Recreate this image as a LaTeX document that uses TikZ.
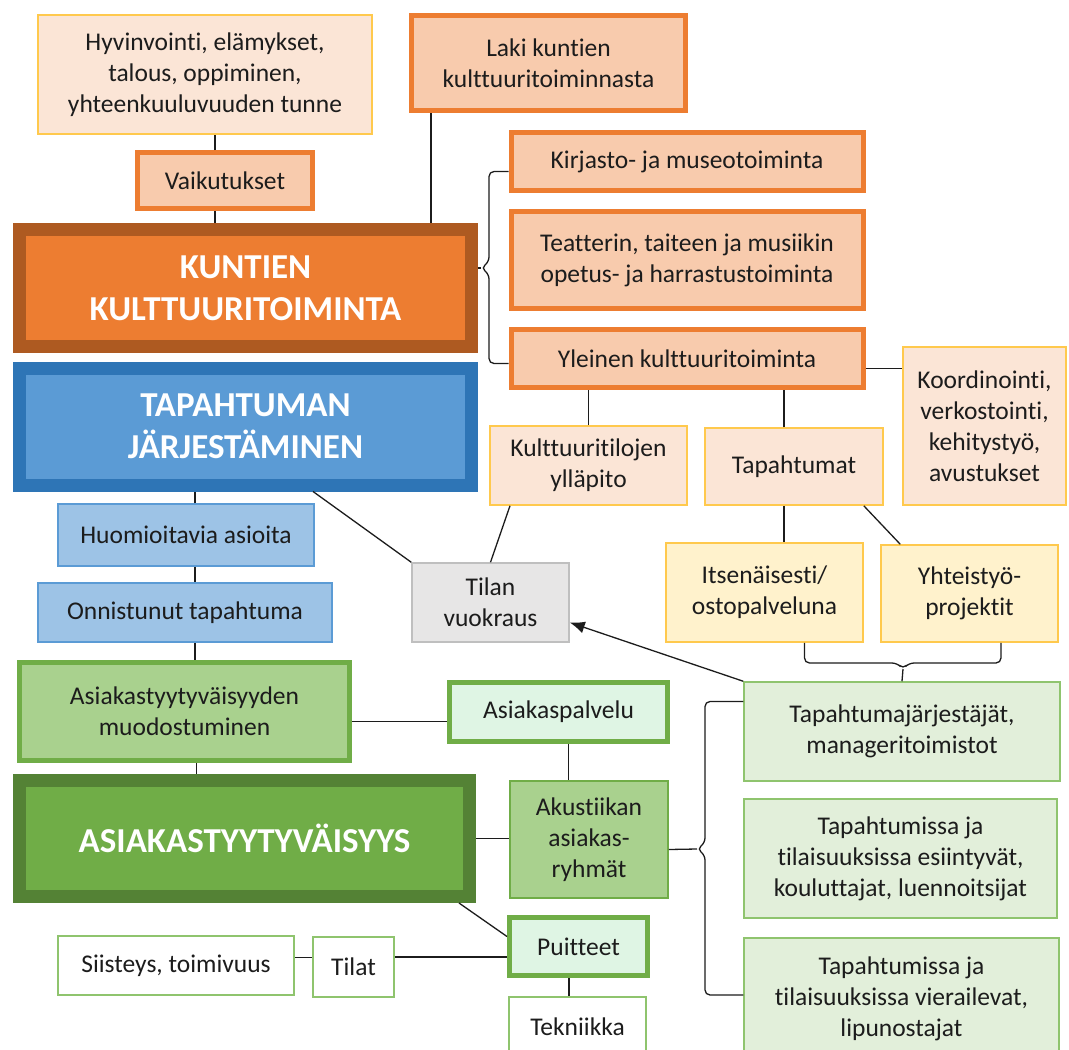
\documentclass[tikz,border=0pt]{standalone}
\usepackage{fontspec}
\setmainfont{Carlito}[Ligatures=NoCommon]
\usepackage{tikz}
\usetikzlibrary{arrows.meta,calc,positioning}
\definecolor{ink}{HTML}{1C1C1C}
\definecolor{orng}{HTML}{ED7D31}
\definecolor{orngdark}{HTML}{AE5A21}
\definecolor{orngpale}{HTML}{F8CBAD}
\definecolor{peach}{HTML}{FBE5D6}
\definecolor{gold}{HTML}{FFC94D}
\definecolor{yellowpale}{HTML}{FFF2CC}
\definecolor{bluedark}{HTML}{2E75B6}
\definecolor{bluemid}{HTML}{5B9BD5}
\definecolor{bluepale}{HTML}{9DC3E6}
\definecolor{grndark}{HTML}{548235}
\definecolor{grn}{HTML}{70AD47}
\definecolor{grnlite}{HTML}{A9D18E}
\definecolor{grnline}{HTML}{8FC46E}
\definecolor{grnpale}{HTML}{E2EFDA}
\definecolor{mint}{HTML}{DFF5E4}
\definecolor{greyfill}{HTML}{E7E6E6}
\definecolor{greyline}{HTML}{BFBFBF}
\newcommand\boxfont{\fontsize{25.5}{31}\selectfont}
\newcommand\headfont{\bfseries\fontsize{35}{42}\selectfont}

\begin{document}
\begin{tikzpicture}[x=1pt,y=-1pt,>={Latex[length=15pt,width=12pt]},
    every node/.style={align=center,inner sep=0pt,font=\boxfont,text=ink},
    orangebox/.style={draw=orng,fill=orngpale,line width=5pt},
    peachbox/.style={draw=gold,fill=peach,line width=1.5pt},
    yellowbox/.style={draw=gold,fill=yellowpale,line width=1.5pt},
    bluebox/.style={draw=bluemid,fill=bluepale,line width=1.5pt},
    greenbox/.style={draw=grn,fill=grnlite,line width=5pt},
    mintbox/.style={draw=grn,fill=mint,line width=5pt},
    palebox/.style={draw=grnline,fill=grnpale,line width=1.5pt},
    whitebox/.style={draw=grnline,fill=white,line width=1.5pt},
    greybox/.style={draw=greyline,fill=greyfill,line width=1.5pt},
    headbox/.style={line width=13pt,font=\headfont,text=white,minimum width=452,minimum height=117},
    link/.style={draw=ink,line width=1.3pt}]
  \useasboundingbox (0,0) rectangle (1069,1050);

  \node[peachbox,minimum width=334,minimum height=119] (hyv) at (205,74.5) {Hyvinvointi, elämykset,\\talous, oppiminen,\\yhteenkuuluvuuden tunne};
  \node[orangebox,minimum width=274,minimum height=95] (laki) at (548.5,63) {Laki kuntien\\kulttuuritoiminnasta};
  \node[orangebox,minimum width=175,minimum height=56] (vaik) at (225,180.5) {Vaikutukset};
  \node[headbox,draw=orngdark,fill=orng] (kunt) at (245.5,288) {KUNTIEN\\KULTTUURITOIMINTA};
  \node[orangebox,minimum width=352,minimum height=58] (kir) at (687,161.5) {Kirjasto- ja museotoiminta};
  \node[orangebox,minimum width=352,minimum height=97] (tea) at (687,260) {Teatterin, taiteen ja musiikin\\opetus- ja harrastustoiminta};
  \node[orangebox,minimum width=352,minimum height=58] (yle) at (687,358.5) {Yleinen kulttuuritoiminta};

  \node[headbox,draw=bluedark,fill=bluemid] (tap) at (245.5,426.5) {TAPAHTUMAN\\JÄRJESTÄMINEN};
  \node[bluebox,minimum width=256,minimum height=62] (huo) at (186,535) {Huomioitavia asioita};
  \node[bluebox,minimum width=294,minimum height=59] (onn) at (185,612.5) {Onnistunut tapahtuma};
  \node[greybox,minimum width=157,minimum height=79] (vuo) at (490.5,602.5) {Tilan\\vuokraus};
  \node[peachbox,minimum width=197,minimum height=79] (kul) at (588.5,465.5) {Kulttuuritilojen\\ylläpito};
  \node[peachbox,minimum width=178,minimum height=77] (tpm) at (794,466.5) {Tapahtumat};
  \node[peachbox,minimum width=163,minimum height=158] (koo) at (984.5,426) {Koordinointi,\\verkostointi,\\kehitystyö,\\avustukset};
  \node[yellowbox,minimum width=197,minimum height=99] (its) at (764.5,592.5) {Itsenäisesti/\\ostopalveluna};
  \node[yellowbox,minimum width=177,minimum height=97] (yht) at (969.5,593.5) {Yhteistyö-\\projektit};

  \node[greenbox,minimum width=330,minimum height=98] (asf) at (184.5,711.5) {Asiakastyytyväisyyden\\muodostuminen};
  \node[mintbox,minimum width=218,minimum height=59] (asp) at (558.5,712) {Asiakaspalvelu};
  \node[headbox,draw=grndark,fill=grn,minimum width=450,minimum height=116] (asi) at (244.5,838.5) {ASIAKASTYYTYVÄISYYS};
  \node[draw=grn,fill=grnlite,line width=1.5pt,minimum width=158,minimum height=117] (aku) at (589,839.5) {Akustiikan\\asiakas-\\ryhmät};
  \node[mintbox,minimum width=138,minimum height=58] (pui) at (578.5,946.5) {Puitteet};
  \node[whitebox,minimum width=81,minimum height=60] (til) at (353.5,967) {Tilat};
  \node[whitebox,minimum width=236,minimum height=59] (sii) at (176,965.5) {Siisteys, toimivuus};
  \node[whitebox,minimum width=137,minimum height=60] (tek) at (577.5,1027) {Tekniikka};

  \node[palebox,minimum width=316,minimum height=99] (tpj) at (902,731.5) {Tapahtumajärjestäjät,\\manageritoimistot};
  \node[palebox,minimum width=313,minimum height=119] (esi) at (900.5,858.5) {Tapahtumissa ja\\tilaisuuksissa esiintyvät,\\kouluttajat, luennoitsijat};
  \node[palebox,minimum width=315,minimum height=122] (vie) at (901.5,999) {Tapahtumissa ja\\tilaisuuksissa vierailevat,\\lipunostajat};

  \coordinate (kbrace) at (481,268);
  \coordinate (ibrace) at (903,669);
  \coordinate (abrace) at (697,849);

  \draw[link] ([xshift=-10pt]vaik.north) -- ([xshift=-10pt]vaik.north |- hyv.south);
  \draw[link] ([xshift=-10pt]vaik.south) -- ([xshift=-10pt]vaik.south |- kunt.north);
  \draw[link] ([xshift=-117.5pt]laki.south) -- ([xshift=-117.5pt]laki.south |- kunt.north);
  \draw[link,rounded corners=5pt] ([yshift=-10pt]kir.west) -| (489,262) -- (kbrace) -- (489,274) |- ([yshift=-5pt]yle.west);
  \draw[link] ([yshift=20pt]kunt.east) -- (kbrace);

  \draw[link] ([xshift=9pt]huo.north) -- ([xshift=9pt]huo.north |- tap.south);
  \draw[link] ([xshift=9pt]huo.south) -- ([xshift=9pt]huo.south |- onn.north);
  \draw[link] ([xshift=10pt]onn.south) -- ([xshift=10pt]onn.south |- asf.north);
  \draw[link] ([xshift=12pt]asf.south) -- ([xshift=12pt]asf.south |- asi.north);
  \draw[link] ([xshift=67.5pt]tap.south) -- (vuo.north west);
  \draw[link] ([xshift=-78.5pt]kul.south) -- (vuo.north);
  \draw[link] (kul.north) -- (kul.north |- yle.south);
  \draw[link] ([xshift=-10pt]tpm.north) -- ([xshift=-10pt]tpm.north |- yle.south);
  \draw[link] ([yshift=-10pt]yle.east) -- ([yshift=-10pt]yle.east -| koo.west);
  \draw[link] ([xshift=-10pt]tpm.south) -- ([xshift=-10pt]tpm.south |- its.north);
  \draw[link] ([xshift=-20pt]tpm.south east) -- ([xshift=20pt]yht.north west);
  \draw[link,rounded corners=5pt] ([xshift=40pt]its.south) |- (897,663) -- (ibrace) -- (909,663) -| ([xshift=31.5pt]yht.south);
  \draw[link] (ibrace) -- (tpj.north);
  \draw[link,->] (tpj.north west) -- ([yshift=-20pt]vuo.east);

  \draw[link] ([yshift=-10pt]asf.east) -- ([yshift=-10pt]asf.east -| asp.west);
  \draw[link] ([xshift=10pt]asp.south) -- ([xshift=10pt]asp.south |- aku.north);
  \draw[link] (asi.east) -- (asi.east -| aku.west);
  \draw[link] ([xshift=-17pt]asi.south east) -- ([yshift=10pt]pui.west);
  \draw[link] ([yshift=8pt]sii.east) -- ([yshift=8pt]sii.east -| til.west);
  \draw[link] ([yshift=10pt]til.east) -- ([yshift=10pt]til.east -| pui.west);
  \draw[link] ([xshift=-9.5pt]pui.south) -- ([xshift=-9.5pt]pui.south |- tek.north);
  \draw[link,rounded corners=5pt] ([yshift=30pt]tpj.west) -| (705,843) -- (abrace) -- (705,855) |- ([yshift=4pt]vie.west);
  \draw[link] ([yshift=-10pt]aku.east) -- (abrace);
\end{tikzpicture}
\end{document}
